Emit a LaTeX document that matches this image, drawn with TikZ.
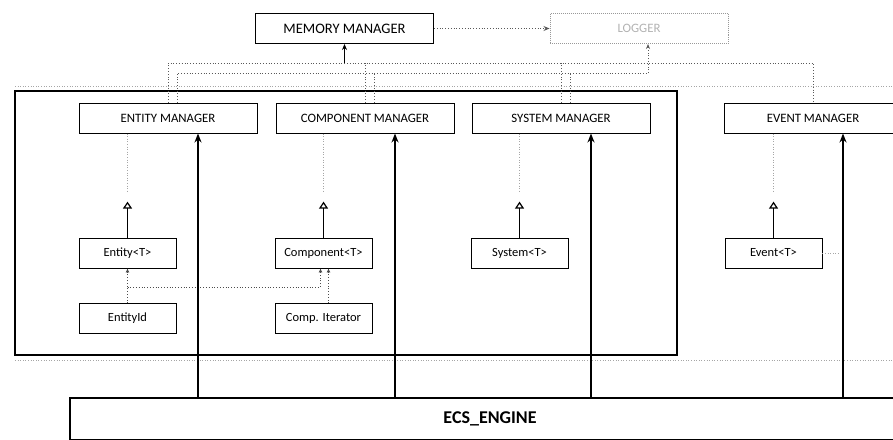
\documentclass[tikz,border=0pt]{standalone}
\usepackage{fontspec}
\setmainfont{Carlito}
\usetikzlibrary{arrows.meta}

\begin{document}
\begin{tikzpicture}[x=1pt, y=-1pt,
    mgr/.style={draw, line width=1pt, minimum width=178pt, minimum height=30pt, inner sep=0pt, font=\fontsize{12.8}{14}\selectfont},
    cls/.style={draw, line width=0.8pt, minimum width=97pt, minimum height=30pt, inner sep=0pt, font=\fontsize{12.5}{14}\selectfont},
    bus/.style={draw=black!65, dotted, line width=0.8pt},
    faint/.style={draw=black!35, dotted, line width=0.6pt},
    thickarrow/.style={-{Stealth[length=9pt, width=7pt]}, line width=1.6pt},
    inherit/.style={-{Triangle[open, length=7pt, width=9pt]}, line width=1.2pt},
    own/.style={-{Latex[length=4pt, width=4pt]}, dotted, line width=0.8pt, draw=black!70}
]
\useasboundingbox (0,0) rectangle (893,439);

% Top level services
\node[mgr, font=\fontsize{14.5}{16}\selectfont] (mem) at (344.5,28.5) {MEMORY MANAGER};
\node[mgr, draw=black!40, densely dotted, text=black!30] (logger) at (639,28.5) {LOGGER};
\draw[bus, -{Stealth[length=6pt, width=5pt]}] (mem) -- (logger);

% Faint outer frame
\coordinate (fa) at (15,86);
\coordinate (fb) at (893,86);
\coordinate (fc) at (15,360);
\coordinate (fd) at (893,360);
\draw[faint] (fa) -- (fb);
\draw[faint] (fc) -- (fd);

% Package frame
\node[draw, line width=1.3pt, minimum width=662pt, minimum height=264pt, inner sep=0pt] (pkg) at (346,223) {};

% Managers
\node[mgr] (entmgr) at (168,118) {ENTITY MANAGER};
\node[mgr] (compmgr) at (365,118) {COMPONENT MANAGER};
\node[mgr] (sysmgr) at (561,118) {SYSTEM MANAGER};
\node[mgr] (evtmgr) at (813,118) {EVENT MANAGER};

% Classes
\node[cls] (ent) at (127.5,253) {Entity<T>};
\node[cls] (entid) at (127.5,318.5) {EntityId};
\node[cls] (comp) at (323.5,253) {Component<T>};
\node[cls] (compit) at (323.5,318.5) {Comp. Iterator};
\node[cls] (sys) at (519.5,253) {System<T>};
\node[cls] (evt) at (773.5,253) {Event<T>};

% Engine
\node[draw, line width=1.8pt, minimum width=840pt, minimum height=42pt, font=\fontsize{18}{20}\selectfont\bfseries] (engine) at (490,419) {ECS\_ENGINE};

% Memory bus
\coordinate (membus) at (344.5,63);
\draw[bus] (entmgr.north) |- (evtmgr.north |- membus) -- (evtmgr.north);
\foreach \m in {compmgr, sysmgr}
  \draw[bus] (\m.north) -- (\m.north |- membus);
\draw[line width=0.9pt, -{Stealth[length=6pt, width=5pt]}] (membus) -- (mem);

% Logger bus
\coordinate (logbus) at (648,73);
\draw[bus] ([xshift=9pt]entmgr.north) |- (logbus);
\foreach \m in {compmgr, sysmgr}
  \draw[bus] ([xshift=9pt]\m.north) -- ([xshift=9pt]\m.north |- logbus);
\draw[bus, -{Stealth[length=5pt, width=4pt]}] (logbus) -- (logger.south -| logbus);

% Inheritance
\foreach \c/\m in {ent/entmgr, comp/compmgr, sys/sysmgr, evt/evtmgr} {
  \draw[inherit] (\c.north) -- ++(0,-36) coordinate (\c top);
  \draw[faint] (\c.north |- \m.south) -- ([yshift=9pt]\c top);
}

% Ownership
\coordinate (join) at (127.5,287);
\draw[own] (entid) -- (ent);
\draw[own] (join) -| ([xshift=-3pt]comp.south);
\draw[own] ([xshift=5pt]compit.north) -- ([xshift=5pt]comp.south);
\draw[faint] (evt.east) -- ++(18,0) coordinate (evtend);

% Engine drives the managers
\foreach \m in {entmgr, compmgr, sysmgr, evtmgr}
  \draw[thickarrow] ([xshift=30pt]\m.south |- engine.north) -- ([xshift=30pt]\m.south);

\end{tikzpicture}
\end{document}
